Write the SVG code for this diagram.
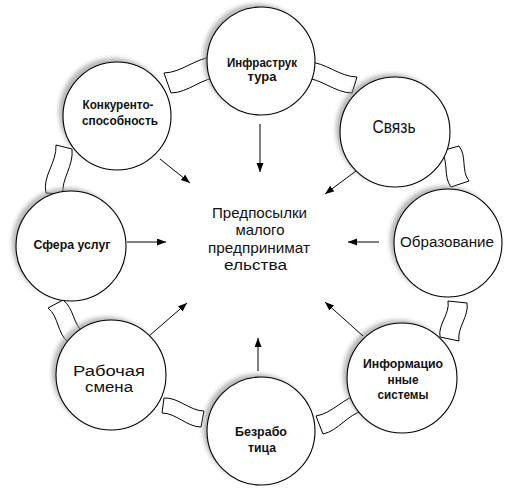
<svg xmlns="http://www.w3.org/2000/svg" width="517" height="493" viewBox="0 0 517 493">
<style>
.rib{fill:#fff;stroke:#000;stroke-width:1}
.c{fill:#fff;stroke:#000;stroke-width:1.1}
.sh{fill:#909090;opacity:0.65;filter:url(#blur)}
.ln{stroke:#000;stroke-width:1;fill:none;marker-end:url(#ah)}
text{font-family:"Liberation Sans",Arial,sans-serif;fill:#111;text-anchor:middle}
.b{font-weight:bold;font-size:13px}
</style>
<defs>
<filter id="blur" x="-20%" y="-20%" width="140%" height="140%"><feGaussianBlur stdDeviation="2"/></filter>
<marker id="ah" markerUnits="userSpaceOnUse" markerWidth="10" markerHeight="8" refX="9" refY="3.5" orient="auto"><path d="M0,0 L9,3.5 L0,7 Z" fill="#000"/></marker>
</defs>
<g id="ribbons">
<path class="rib" d="M164,73 C182.2,72.5 195.8,57.5 214,57 L220,77 C202.2,77.5 188.8,92.5 171,93 Z"/>
<path class="rib" d="M308,62 C325.8,62.2 339.2,76.8 357,77 L352,93 C334.5,92.8 321.5,78.2 304,78 Z"/>
<path class="rib" d="M441,151 L459,146 C467.1,156.3 460.9,170.7 469,181 L451,187 C442.9,176.4 449.1,161.6 441,151 Z"/>
<path class="rib" d="M448,301 L467,303 C469.2,316.7 456.8,327.3 459,341 L440,337 C437.8,324 450.2,314 448,301 Z"/>
<path class="rib" d="M316,416 C333.2,413.2 343.8,396.8 361,394 L363,411 C347.5,414.2 338.5,430.8 323,434 Z"/>
<path class="rib" d="M164,398 C178,397 190,411 204,411 L201,427 C187,427 176,413 162,413 Z"/>
<path class="rib" d="M48,308 L63,300 C74.2,308.3 72.8,324.7 84,333 L68,342 C57.1,333.4 58.9,316.6 48,308 Z"/>
<path class="rib" d="M56,145 L72,149 C73.9,165.6 61.1,179.4 63,194 L46,193 C42.1,176.1 56.9,162.9 56,145 Z"/>
</g>
<g id="n-infra">
<circle class="sh" cx="257" cy="58" r="54"/>
<circle class="c" cx="261" cy="61" r="54"/>
<text class="b" x="262" y="67" textLength="70" lengthAdjust="spacingAndGlyphs">Инфраструк</text>
<text class="b" x="262" y="81">тура</text>
</g>
<g id="n-svyaz">
<circle class="sh" cx="391" cy="129" r="55"/>
<circle class="c" cx="395" cy="132" r="55"/>
<text x="394" y="133" font-size="18" textLength="43" lengthAdjust="spacingAndGlyphs">Связь</text>
</g>
<g id="n-obraz">
<circle class="sh" cx="444" cy="240" r="54"/>
<circle class="c" cx="448" cy="243" r="54"/>
<text x="447" y="247" font-size="15.5" textLength="94" lengthAdjust="spacingAndGlyphs">Образование</text>
</g>
<g id="n-inform">
<circle class="sh" cx="398" cy="375" r="55"/>
<circle class="c" cx="402" cy="378" r="55"/>
<text class="b" x="403" y="368" textLength="80" lengthAdjust="spacingAndGlyphs">Информацио</text>
<text class="b" x="403" y="384" textLength="31" lengthAdjust="spacingAndGlyphs">нные</text>
<text class="b" x="403" y="399" textLength="51" lengthAdjust="spacingAndGlyphs">системы</text>
</g>
<g id="n-bezrab">
<circle class="sh" cx="257" cy="428" r="54"/>
<circle class="c" cx="261" cy="431" r="54"/>
<text class="b" x="261" y="436" textLength="52" lengthAdjust="spacingAndGlyphs">Безрабо</text>
<text class="b" x="262" y="452" textLength="28" lengthAdjust="spacingAndGlyphs">тица</text>
</g>
<g id="n-rabochaya">
<circle class="sh" cx="107" cy="372" r="55"/>
<circle class="c" cx="111" cy="375" r="55"/>
<text x="109" y="376" font-size="14" textLength="72" lengthAdjust="spacingAndGlyphs">Рабочая</text>
<text x="109" y="392" font-size="14" textLength="48" lengthAdjust="spacingAndGlyphs">смена</text>
</g>
<g id="n-sfera">
<circle class="sh" cx="67" cy="243" r="55"/>
<circle class="c" cx="71" cy="246" r="55"/>
<text class="b" x="72" y="249" textLength="77" lengthAdjust="spacingAndGlyphs">Сфера услуг</text>
</g>
<g id="n-konk">
<circle class="sh" cx="113" cy="112" r="54"/>
<circle class="c" cx="117" cy="116" r="54"/>
<text class="b" x="118" y="109" textLength="71" lengthAdjust="spacingAndGlyphs">Конкуренто-</text>
<text class="b" x="120" y="125" textLength="76" lengthAdjust="spacingAndGlyphs">способность</text>
</g>
<g id="n-center">
<text x="259.5" y="218" font-size="15" textLength="95" lengthAdjust="spacingAndGlyphs">Предпосылки</text>
<text x="260" y="235" font-size="15" textLength="49" lengthAdjust="spacingAndGlyphs">малого</text>
<text x="259" y="253" font-size="15" textLength="102" lengthAdjust="spacingAndGlyphs">предпринимат</text>
<text x="255.5" y="270" font-size="15" textLength="63" lengthAdjust="spacingAndGlyphs">ельства</text>
</g>
<g id="connectors">
<line class="ln" x1="260" y1="124" x2="260" y2="172"/>
<line class="ln" x1="160" y1="159" x2="190" y2="183"/>
<line class="ln" x1="356" y1="171" x2="325" y2="194"/>
<line class="ln" x1="127" y1="242" x2="166" y2="242"/>
<line class="ln" x1="379" y1="242" x2="348" y2="242"/>
<line class="ln" x1="149" y1="336" x2="187" y2="303"/>
<line class="ln" x1="363" y1="336" x2="325" y2="302"/>
<line class="ln" x1="258" y1="371" x2="258" y2="338"/>
</g>
</svg>
